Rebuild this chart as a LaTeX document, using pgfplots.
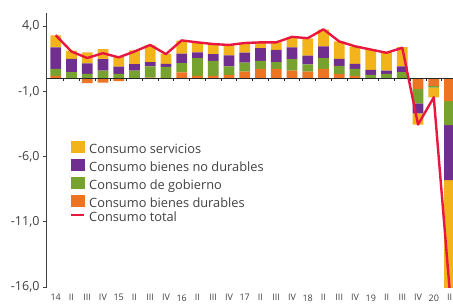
\documentclass[border=0pt]{standalone}
\usepackage{fontspec}
\setmainfont{Open Sans}
\usepackage{pgfplots}
\usepackage{pgfplotstable}
\pgfplotsset{compat=1.18}
\definecolor{cser}{HTML}{F3B41B}
\definecolor{cnod}{HTML}{702F8F}
\definecolor{cgob}{HTML}{78A22F}
\definecolor{cdur}{HTML}{ED7423}
\definecolor{cred}{HTML}{E8173F}
\definecolor{axgray}{HTML}{404040}

% positive parts: x dur gob nod ser
\pgfplotstableread{
x dur gob nod ser
0 0.18 0.54 1.64 0.92
1 0 0.46 1.03 0.62
2 0 0.33 0.80 0.85
3 0 0.59 0.87 0.77
4 0 0.33 0.56 0.77
5 0 0.59 0.49 1.05
6 0.05 0.85 0.33 1.28
7 0.02 0.85 0.23 0.77
8 0.44 0.72 0.72 1.00
9 0.18 1.36 0.44 0.77
10 0.18 1.15 0.51 0.77
11 0.26 0.64 0.85 0.77
12 0.51 0.69 0.77 0.72
13 0.72 0.62 0.97 0.44
14 0.72 0.51 0.95 0.56
15 0.59 0.87 0.90 0.79
16 0.51 0.56 0.66 1.33
17 0.72 0.82 0.90 1.28
18 0.31 0.64 0.54 1.33
19 0.18 0.54 0.38 1.33
20 0 0.26 0.38 1.54
21 0 0.33 0.26 1.41
22 0 0.46 0.44 1.49
}\pos

% negative parts
\pgfplotstableread{
x dur gob nod ser
1 -0.05 0 0 0
2 -0.38 0 0 0
3 -0.33 0 0 0
4 -0.23 0 0 0
5 -0.05 0 0 0
20 -0.05 0 0 0
21 -0.05 0 0 0
22 -0.05 0 0 0
23 -0.83 -1.10 -0.77 -0.85
24 -0.59 -0.13 0 -0.74
25 -1.75 -1.85 -4.20 -8.30
}\neg

% consumo total
\pgfplotstableread{
x tot
0 3.30
1 2.05
2 1.55
3 1.92
4 1.60
5 2.05
6 2.55
7 1.85
8 2.90
9 2.75
10 2.62
11 2.55
12 2.70
13 2.75
14 2.75
15 3.17
16 3.07
17 3.75
18 2.82
19 2.45
20 2.20
21 1.95
22 2.33
23 -3.55
24 -1.46
25 -16.10
}\tot

\pgfplotsset{base/.style={scale only axis, width=406pt, height=274pt,
  xmin=-0.55, xmax=25.22, ymin=-16, ymax=5,
  at={(47pt,19pt)}, anchor=south west}}

\begin{document}
\begin{tikzpicture}
\path[use as bounding box] (0,0) rectangle (453pt,306pt);
% main axis: y axis, labels, positive bars, legend
\begin{axis}[base, ybar stacked, bar width=0.68,
  axis y line*=left, axis x line*=bottom,
  x axis line style={draw=none},
  xtick={0,...,25},
  xticklabels={14,II,III,IV,15,II,III,IV,16,II,III,IV,17,II,III,IV,18,II,III,IV,19,II,III,IV,20,II},
  x tick style={draw=none},
  xticklabel style={font=\fontsize{9}{10}\selectfont, text=axgray},
  ytick={-16,-11,-6,-1,4},
  yticklabels={{-16,0},{-11,0},{-6,0},{-1,0},{4,0}},
  yticklabel style={font=\fontsize{12.5}{14}\selectfont, text=axgray},
  y tick style={draw=axgray, line width=0.8pt},
  tick align=outside, major tick length=4pt,
  y axis line style={draw=axgray, line width=1pt},
  legend cell align=left,
  legend style={draw=none, fill=none, at={(0.0567,0.535)}, anchor=north west,
    font=\fontsize{12.8}{14}\selectfont, inner sep=0pt,
    row sep=2.3pt, column sep=4pt,
    nodes={inner sep=0pt, text height=9pt, text depth=3pt, text=axgray}},
]
\addplot[forget plot, fill=cdur, draw=none] table[x=x,y=dur]{\pos};
\addplot[forget plot, fill=cgob, draw=none] table[x=x,y=gob]{\pos};
\addplot[forget plot, fill=cnod, draw=none] table[x=x,y=nod]{\pos};
\addplot[forget plot, fill=cser, draw=none] table[x=x,y=ser]{\pos};
\addlegendimage{legend image code/.code={\fill[cser] (0pt,-1.5pt) rectangle (13pt,9.5pt);}}
\addlegendentry{Consumo servicios}
\addlegendimage{legend image code/.code={\fill[cnod] (0pt,-1.5pt) rectangle (13pt,9.5pt);}}
\addlegendentry{Consumo bienes no durables}
\addlegendimage{legend image code/.code={\fill[cgob] (0pt,-1.5pt) rectangle (13pt,9.5pt);}}
\addlegendentry{Consumo de gobierno}
\addlegendimage{legend image code/.code={\fill[cdur] (0pt,-1.5pt) rectangle (13pt,9.5pt);}}
\addlegendentry{Consumo bienes durables}
\addlegendimage{legend image code/.code={\draw[cred, line width=2pt] (0pt,3.5pt) -- (13pt,3.5pt);}}
\addlegendentry{Consumo total}
\end{axis}
% negative bars
\begin{axis}[base, hide axis, ybar stacked, bar width=0.68]
\addplot[fill=cdur, draw=none] table[x=x,y=dur]{\neg};
\addplot[fill=cgob, draw=none] table[x=x,y=gob]{\neg};
\addplot[fill=cnod, draw=none] table[x=x,y=nod]{\neg};
\addplot[fill=cser, draw=none] table[x=x,y=ser]{\neg};
\end{axis}
% zero line and total
\begin{axis}[base, axis x line*=middle, axis y line=none,
  xtick={0.5,1.5,...,24.5}, ytick=\empty,
  xticklabel style={text opacity=0},
  tick align=outside, major tick length=2.5pt,
  x axis line style={draw=black!85, line width=1.1pt},
  x tick style={draw=black!85, line width=0.8pt}]
\addplot[cred, line width=2.4pt, line join=round, mark=none] table[x=x,y=tot]{\tot};
\end{axis}
\end{tikzpicture}
\end{document}
